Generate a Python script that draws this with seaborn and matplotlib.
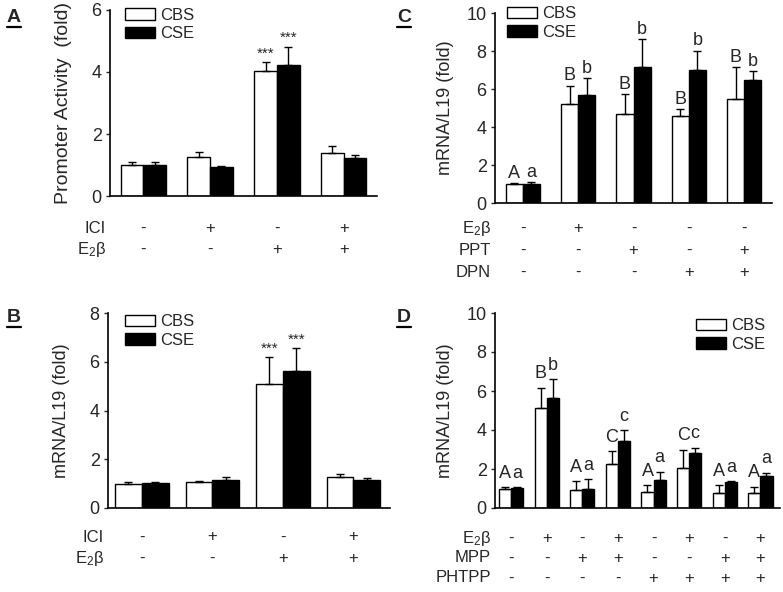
import numpy as np
import pandas as pd
import seaborn as sns
import matplotlib.pyplot as plt
from matplotlib.lines import Line2D

sns.set_style("ticks")
plt.rcParams['font.family'] = ['Liberation Sans', 'DejaVu Sans']
plt.rcParams['mathtext.fontset'] = 'custom'
plt.rcParams['mathtext.rm'] = 'Liberation Sans'
plt.rcParams['mathtext.it'] = 'Liberation Sans:italic'
plt.rcParams['mathtext.bf'] = 'Liberation Sans:bold'

E2B = "E$_2$β"

# panel A - promoter activity
a_cbs = [1.0, 1.27, 4.02, 1.40]
a_cbs_err = [0.10, 0.14, 0.30, 0.20]
a_cse = [1.0, 0.92, 4.22, 1.23]
a_cse_err = [0.10, 0.05, 0.60, 0.09]
a_cbs_lbl = ["", "", "***", ""]
a_cse_lbl = ["", "", "***", ""]
a_rows = ["ICI", E2B]
a_signs = [["-", "+", "-", "+"],
           ["-", "-", "+", "+"]]

# panel B - mRNA, ICI / E2b
b_cbs = [1.0, 1.07, 5.10, 1.27]
b_cbs_err = [0.05, 0.02, 1.08, 0.13]
b_cse = [1.01, 1.15, 5.63, 1.15]
b_cse_err = [0.05, 0.13, 0.94, 0.07]
b_cbs_lbl = ["", "", "***", ""]
b_cse_lbl = ["", "", "***", ""]
b_rows = ["ICI", E2B]
b_signs = [["-", "+", "-", "+"],
           ["-", "-", "+", "+"]]

# panel C - agonists
c_cbs = [1.0, 5.2, 4.7, 4.6, 5.45]
c_cbs_err = [0.05, 0.97, 1.03, 0.35, 1.70]
c_cse = [1.02, 5.70, 7.15, 7.0, 6.45]
c_cse_err = [0.07, 0.88, 1.47, 1.02, 0.50]
c_cbs_lbl = ["A", "B", "B", "B", "B"]
c_cse_lbl = ["a", "b", "b", "b", "b"]
c_rows = [E2B, "PPT", "DPN"]
c_signs = [["-", "+", "-", "-", "-"],
           ["-", "-", "+", "-", "+"],
           ["-", "-", "-", "+", "+"]]

# panel D - antagonists
d_cbs = [0.96, 5.15, 0.90, 2.27, 0.80, 2.05, 0.77, 0.77]
d_cbs_err = [0.10, 1.02, 0.48, 0.63, 0.36, 0.93, 0.39, 0.31]
d_cse = [1.02, 5.66, 1.00, 3.42, 1.45, 2.82, 1.32, 1.65]
d_cse_err = [0.05, 0.95, 0.48, 0.56, 0.40, 0.28, 0.05, 0.17]
d_cbs_lbl = ["A", "B", "A", "C", "A", "C", "A", "A"]
d_cse_lbl = ["a", "b", "a", "c", "a", "c", "a", "a"]
d_rows = [E2B, "MPP", "PHTPP"]
d_signs = [["-", "+", "-", "+", "-", "+", "-", "+"],
           ["-", "-", "+", "+", "-", "-", "+", "+"],
           ["-", "-", "-", "-", "+", "+", "+", "+"]]

W, H = 783, 592
fig = plt.figure(figsize=(W/100, H/100), dpi=100)

def px_axes(left, top, right, bottom):
    return fig.add_axes([left/W, 1-bottom/H, (right-left)/W, (bottom-top)/H])

def panel(ax, cbs, cbs_err, cse, cse_err, cbs_lbl, cse_lbl, width, xlim, ymax, ystep,
          ylabel, ylabel_size, labelpad, rows, signs, first, gap, leg_loc, leg_anchor,
          lbl_size, lbl_pad):
    n = len(cbs)
    df = pd.DataFrame({"group": [str(i) for i in range(n)]*2,
                       "value": cbs + cse,
                       "series": ["CBS"]*n + ["CSE"]*n})
    sns.barplot(data=df, x="group", y="value", hue="series",
                palette={"CBS": "white", "CSE": "black"}, saturation=1,
                edgecolor="black", linewidth=1, width=width, errorbar=None, ax=ax)
    for cont, err, lbl in zip(ax.containers[:2], [cbs_err, cse_err], [cbs_lbl, cse_lbl]):
        xs = [p.get_x() + p.get_width()/2 for p in cont]
        ys = [p.get_height() for p in cont]
        ax.errorbar(xs, ys, yerr=[np.zeros(n), err], fmt="none", ecolor="black",
                    elinewidth=1, capsize=3, capthick=1)
        for x, y, e, t in zip(xs, ys, err, lbl):
            if t:
                ax.annotate(t, xy=(x, y+e), xytext=(0, lbl_pad), textcoords="offset points",
                            ha="center", va="bottom", fontsize=lbl_size)
    ax.set_xlim(*xlim)
    ax.set_ylim(0, ymax)
    ax.set_yticks(np.arange(0, ymax+0.1, ystep))
    ax.set_xticks([])
    ax.set_xlabel("")
    ax.set_ylabel(ylabel, fontsize=ylabel_size, labelpad=labelpad)
    ax.tick_params(axis="y", direction="out", length=3, width=1, labelsize=13, pad=3)
    sns.despine(ax=ax)
    for s in ["left", "bottom"]:
        ax.spines[s].set_linewidth(1.2)
        ax.spines[s].set_color("black")
    h, l = ax.get_legend_handles_labels()
    ax.legend(h, l, loc=leg_loc, bbox_to_anchor=leg_anchor, frameon=False, fontsize=12,
              handlelength=1.8, handleheight=0.7, handletextpad=0.3, labelspacing=0.2,
              borderpad=0, borderaxespad=0)
    for i, (name, row) in enumerate(zip(rows, signs)):
        off = -(first + i*gap) * 0.72
        ax.annotate(name, xy=(0, 0), xycoords="axes fraction", xytext=(-3, off),
                    textcoords="offset points", ha="right", va="center", fontsize=12,
                    annotation_clip=False)
        for x, s in enumerate(row):
            ax.annotate(s, xy=(x, 0), xycoords=ax.get_xaxis_transform(), xytext=(0, off),
                        textcoords="offset points", ha="center", va="center", fontsize=12,
                        annotation_clip=False)

axA = px_axes(110, 10, 377, 196)
panel(axA, a_cbs, a_cbs_err, a_cse, a_cse_err, a_cbs_lbl, a_cse_lbl, 0.68, (-0.5, 3.5), 6, 2,
      "Promoter Activity  (fold)", 14, 14, a_rows, a_signs, 32, 21, "upper left",
      (0.056, 1.01), 11, 1)

axB = px_axes(108, 313, 390, 508)
panel(axB, b_cbs, b_cbs_err, b_cse, b_cse_err, b_cbs_lbl, b_cse_lbl, 0.76, (-0.48, 3.52), 8, 2,
      "mRNA/L19 (fold)", 13, 14, b_rows, b_signs, 29, 21, "upper left",
      (0.061, 0.993), 11, 1)

axC = px_axes(495, 13, 772, 203)
panel(axC, c_cbs, c_cbs_err, c_cse, c_cse_err, c_cbs_lbl, c_cse_lbl, 0.62, (-0.5, 4.5), 10, 2,
      "mRNA/L19 (fold)", 13, 9, c_rows, c_signs, 25, 22, "upper left",
      (0.043, 1.035), 13, 1)

axD = px_axes(495, 313, 780, 508)
panel(axD, d_cbs, d_cbs_err, d_cse, d_cse_err, d_cbs_lbl, d_cse_lbl, 0.68, (-0.45, 7.55), 10, 2,
      "mRNA/L19 (fold)", 13, 9, d_rows, d_signs, 30, 20, "upper right",
      (0.947, 0.972), 13, 4)

# panel letters, bold and underlined
renderer = fig.canvas.get_renderer()
for letter, x, y in [("A", 7, 9), ("B", 7, 309), ("C", 397, 9), ("D", 397, 309)]:
    t = fig.text(x/W, 1-y/H, letter, ha="left", va="top", fontsize=14, fontweight="bold")
    bb = t.get_window_extent(renderer)
    yl = (bb.y0 - 0.5)/H
    fig.add_artist(Line2D([bb.x0/W, bb.x1/W], [yl, yl], color="black", linewidth=1.6))

fig.savefig("out.png", dpi=100)
